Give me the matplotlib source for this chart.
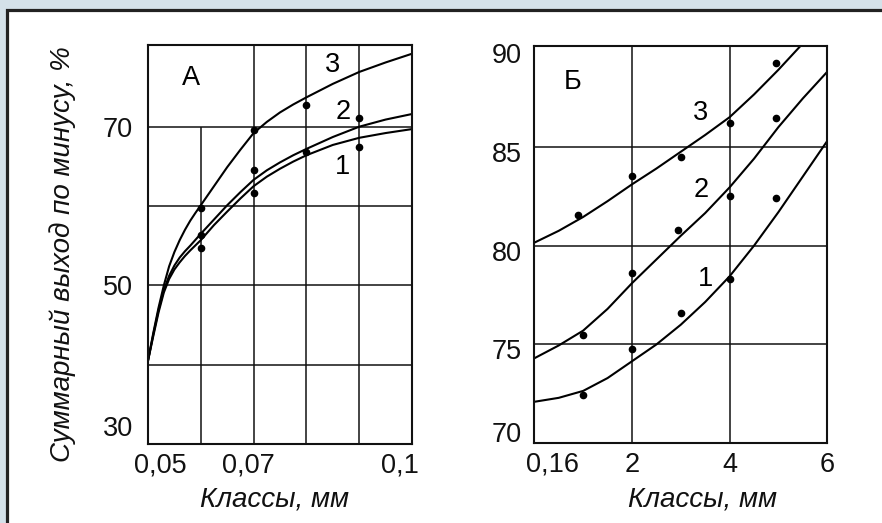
import numpy as np
import matplotlib
matplotlib.use("Agg")
import matplotlib.pyplot as plt
from matplotlib.patches import Rectangle
from matplotlib.transforms import ScaledTranslation

plt.rcParams['font.family'] = ['Liberation Sans', 'DejaVu Sans']

# ---- panel A: classes 0.05-0.1 mm ----
a_x = [0.05, 0.051, 0.052, 0.053, 0.054, 0.055, 0.056, 0.057, 0.058, 0.059, 0.06,
       0.0625, 0.065, 0.0675, 0.07, 0.0725, 0.075, 0.0775, 0.08, 0.085, 0.09, 0.095, 0.1]
a_curve3 = [40.5, 44.0, 47.2, 50.0, 52.4, 54.2, 55.7, 57.0, 58.15, 59.15, 60.1,
            62.5, 64.9, 67.1, 69.2, 70.6, 71.8, 72.8, 73.7, 75.4, 76.9, 78.1, 79.2]
a_curve2 = [40.5, 43.8, 46.9, 49.4, 51.2, 52.5, 53.5, 54.3, 55.0, 55.75, 56.5,
            58.3, 60.1, 61.75, 63.3, 64.5, 65.5, 66.4, 67.2, 68.7, 70.0, 70.9, 71.6]
a_curve1 = [40.5, 43.6, 46.6, 49.1, 50.8, 52.0, 52.9, 53.7, 54.4, 55.05, 55.7,
            57.6, 59.3, 60.95, 62.5, 63.7, 64.7, 65.6, 66.4, 67.7, 68.6, 69.2, 69.7]
a_pts3_x = [0.06, 0.07, 0.08]
a_pts3_y = [59.7, 69.6, 72.7]
a_pts2_x = [0.06, 0.07, 0.09]
a_pts2_y = [56.3, 64.6, 71.1]
a_pts1_x = [0.06, 0.07, 0.08, 0.09]
a_pts1_y = [54.7, 61.6, 66.8, 67.5]
a_xticks = [0.05, 0.07, 0.1]
a_xticklabels = ['0,05', '0,07', '0,1']
a_yticks = [30, 50, 70]

# ---- panel B: classes 0.16-6 mm ----
b_x = [0, 0.5, 1, 1.5, 2, 2.5, 3, 3.5, 4, 4.5, 5, 5.5, 6]
b_curve2 = [74.3, 74.95, 75.7, 76.8, 78.1, 79.3, 80.5, 81.65, 82.95, 84.4, 86.0, 87.45, 88.8]
b_curve1 = [72.1, 72.3, 72.65, 73.3, 74.15, 75.0, 76.0, 77.15, 78.45, 80.0, 81.7, 83.5, 85.3]
b3_x = [0, 0.5, 1, 1.5, 2, 2.5, 3, 3.5, 4, 4.5, 5, 5.45]
b_curve3 = [80.15, 80.75, 81.45, 82.25, 83.1, 83.9, 84.75, 85.6, 86.5, 87.65, 88.9, 90.1]
b_pts3_x = [0.9, 2, 3, 4, 4.95]
b_pts3_y = [81.55, 83.5, 84.5, 86.2, 89.25]
b_pts2_x = [1, 2, 2.95, 4, 4.95]
b_pts2_y = [75.5, 78.6, 80.8, 82.5, 86.45]
b_pts1_x = [1, 2, 3, 4, 4.95]
b_pts1_y = [72.45, 74.75, 76.6, 78.3, 82.4]
b_xticks = [0, 2, 4, 6]
b_xticklabels = ['0,16', '2', '4', '6']
b_yticks = [70, 75, 80, 85, 90]

W, H = 882, 523
fig = plt.figure(figsize=(W / 100, H / 100), dpi=100, facecolor='#d4e1e9')
fig.patches.append(Rectangle((6.5 / W, -0.05), 1.2, (H - 10) / H + 0.05, transform=fig.transFigure,
                             facecolor='white', edgecolor='#222222', lw=2.3, zorder=-5))

FS = 19.5


def shift(label, dx, dy):
    label.set_transform(label.get_transform() + ScaledTranslation(dx / 100, dy / 100, fig.dpi_scale_trans))


def style(ax):
    for s in ax.spines.values():
        s.set_linewidth(1.5)
        s.set_color('#111111')
    ax.tick_params(length=0, labelsize=FS, colors='#111111')
    ax.set_facecolor('none')


# panel A
axA = fig.add_axes([148 / W, 1 - 444 / H, 264 / W, 399 / H])
axA.set_xlim(0.05, 0.1)
axA.set_ylim(30, 80.3)
for gx in [0.07, 0.08, 0.09]:
    axA.axvline(gx, color='#111111', lw=1.1)
axA.vlines(0.06, 30, 70, color='#111111', lw=1.1)
for gy in [40, 50, 60, 70]:
    axA.axhline(gy, color='#111111', lw=1.1)
for c in [a_curve3, a_curve2, a_curve1]:
    axA.plot(a_x, c, color='black', lw=1.5, solid_joinstyle='round')
for px, py in [(a_pts3_x, a_pts3_y), (a_pts2_x, a_pts2_y), (a_pts1_x, a_pts1_y)]:
    axA.plot(px, py, 'o', color='black', ms=4.5, ls='none')
style(axA)
axA.set_xticks(a_xticks)
axA.set_xticklabels(a_xticklabels)
axA.set_yticks(a_yticks)
axA.tick_params(axis='y', pad=11)
axA.tick_params(axis='x', pad=6)
xl = axA.get_xticklabels()
shift(xl[0], 12, 0)
shift(xl[1], -5, 0)
shift(xl[2], -12, 0)
shift(axA.get_yticklabels()[0], 0, 18)
axA.text(0.0581, 76.2, 'А', fontsize=FS, ha='center', va='center')
axA.text(0.0850, 77.8, '3', fontsize=FS, ha='center', va='center')
axA.text(0.0869, 71.9, '2', fontsize=FS, ha='center', va='center')
axA.text(0.0869, 64.9, '1', fontsize=FS, ha='center', va='center')

# panel B
axB = fig.add_axes([534.3 / W, 1 - 443.3 / H, 293 / W, 397.3 / H])
axB.set_xlim(0, 6)
axB.set_ylim(70, 90.1)
for gx in [2, 4]:
    axB.axvline(gx, color='#111111', lw=1.1)
for gy in [75, 80, 85]:
    axB.axhline(gy, color='#111111', lw=1.1)
axB.plot(b3_x, b_curve3, color='black', lw=1.5, solid_joinstyle='round')
for c in [b_curve2, b_curve1]:
    axB.plot(b_x, c, color='black', lw=1.5, solid_joinstyle='round')
for px, py in [(b_pts3_x, b_pts3_y), (b_pts2_x, b_pts2_y), (b_pts1_x, b_pts1_y)]:
    axB.plot(px, py, 'o', color='black', ms=4.5, ls='none')
style(axB)
axB.set_xticks(b_xticks)
axB.set_xticklabels(b_xticklabels)
axB.set_yticks(b_yticks)
axB.tick_params(axis='y', pad=9)
axB.tick_params(axis='x', pad=6)
shift(axB.get_xticklabels()[0], 18, 0)
yl = axB.get_yticklabels()
for lab in yl[1:]:
    shift(lab, 0, -5)
shift(yl[0], 0, 11)
axB.text(0.79, 88.3, 'Б', fontsize=FS, ha='center', va='center')
axB.text(3.41, 86.7, '3', fontsize=FS, ha='center', va='center')
axB.text(3.41, 82.8, '2', fontsize=FS, ha='center', va='center')
axB.text(3.51, 78.3, '1', fontsize=FS, ha='center', va='center')

fig.text(63 / W, 1 - 254 / H, 'Суммарный выход по минусу, %', rotation=90, fontsize=FS + 0.5,
         style='italic', ha='center', va='center', color='#111111')
fig.text(275 / W, 1 - 500 / H, 'Классы, мм', fontsize=FS + 0.5, style='italic',
         ha='center', va='center', color='#111111')
fig.text(702 / W, 1 - 500 / H, 'Классы, мм', fontsize=FS + 0.5, style='italic',
         ha='center', va='center', color='#111111')

fig.savefig('out.png', dpi=100, facecolor=fig.get_facecolor())
